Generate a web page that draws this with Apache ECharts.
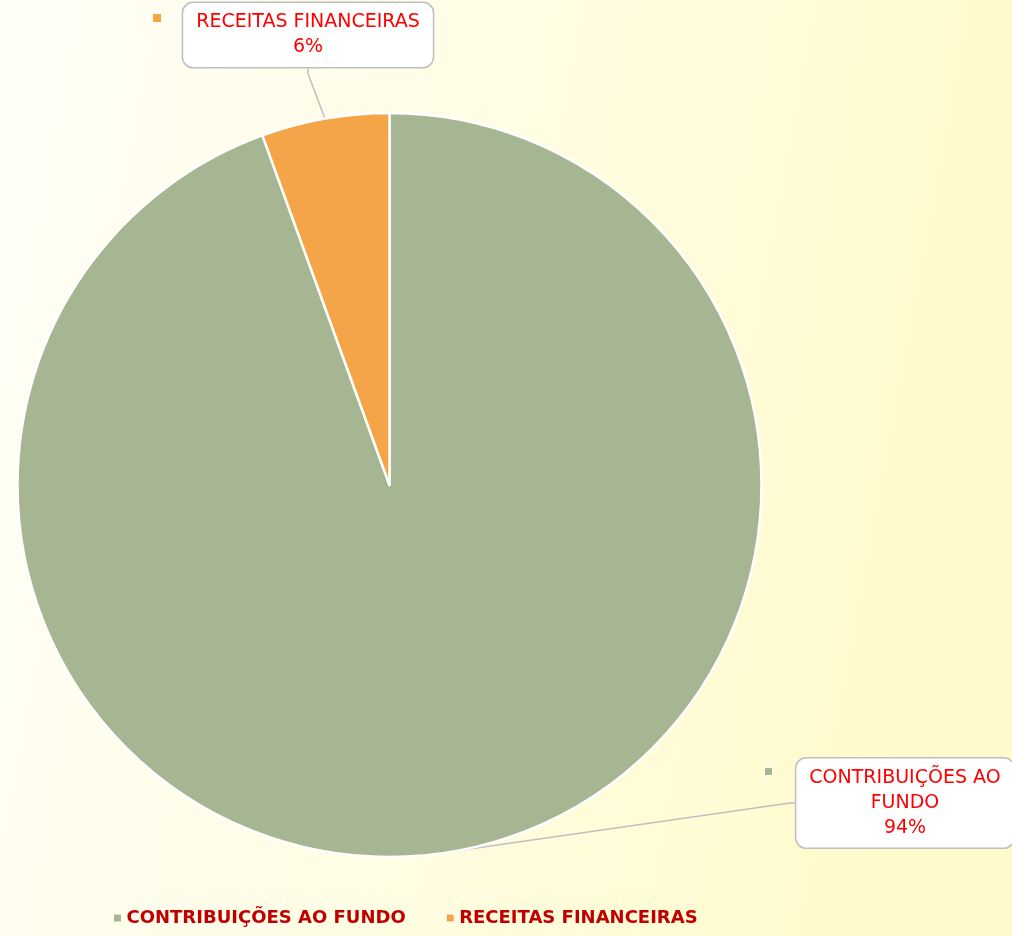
<!DOCTYPE html>
<html>
<head>
<meta charset="utf-8">
<script src="https://cdn.jsdelivr.net/npm/echarts@6/dist/echarts.min.js"></script>
<style>html,body{margin:0;padding:0;}#c{width:1012px;height:936px;}</style>
</head>
<body>
<div id="c"></div>
<script>
const categories = ['CONTRIBUIÇÕES AO FUNDO', 'RECEITAS FINANCEIRAS'];
const labelNames = ['CONTRIBUIÇÕES AO\nFUNDO', 'RECEITAS FINANCEIRAS'];
const values = [94.45, 5.55];
const percentLabels = ['94%', '6%'];
const colors = ['#a6b592', '#f3a547'];

const font = "'Century Gothic', 'DejaVu Sans', sans-serif";
const chart = echarts.init(document.getElementById('c'));
chart.setOption({
  backgroundColor: {
    type: 'linear', x: 0, y: 0, x2: 1, y2: 0.2,
    colorStops: [{offset: 0, color: '#fffef6'}, {offset: 0.5, color: '#fffde4'}, {offset: 1, color: '#fffacb'}]
  },
  legend: {
    bottom: 4,
    left: 108,
    icon: 'rect',
    itemWidth: 8,
    itemHeight: 8,
    itemGap: 40,
    itemStyle: {borderColor: '#ffffff', borderWidth: 1},
    textStyle: {color: '#c00000', fontWeight: 'bold', fontSize: 18, fontFamily: font},
    data: categories
  },
  graphic: [
    {type: 'rect', left: 153, top: 14, shape: {width: 8, height: 8}, style: {fill: colors[1]}},
    {type: 'rect', left: 764, top: 767, shape: {width: 8, height: 8}, style: {fill: colors[0], stroke: '#ffffff', lineWidth: 1}}
  ],
  series: [{
    type: 'pie',
    center: [389.5, 485],
    radius: [0, 372],
    startAngle: 90,
    clockwise: true,
    animation: false,
    itemStyle: {borderColor: '#ffffff', borderWidth: 2.5},
    data: categories.map((c, i) => ({
      name: c, value: values[i],
      itemStyle: {color: colors[i]},
      label: {formatter: labelNames[i] + '\n' + percentLabels[i]}
    })),
    label: {
      show: true,
      color: '#ff0000',
      fontSize: 19,
      lineHeight: 25,
      fontFamily: font,
      align: 'center',
      backgroundColor: '#ffffff',
      borderColor: '#bfbfbf',
      borderWidth: 1.5,
      borderRadius: 10,
      padding: [7, 13, 7, 13]
    },
    labelLine: {show: true, lineStyle: {color: '#bfbfbf', width: 1.5}, length: 5, length2: 5},
    labelLayout: function (p) {
      if (p.dataIndex === 1) {
        return {x: 308, y: 35, align: 'center', verticalAlign: 'middle'};
      }
      return {x: 905, y: 803, align: 'center', verticalAlign: 'middle'};
    },
    emphasis: {disabled: true}
  }]
});
</script>
</body>
</html>
